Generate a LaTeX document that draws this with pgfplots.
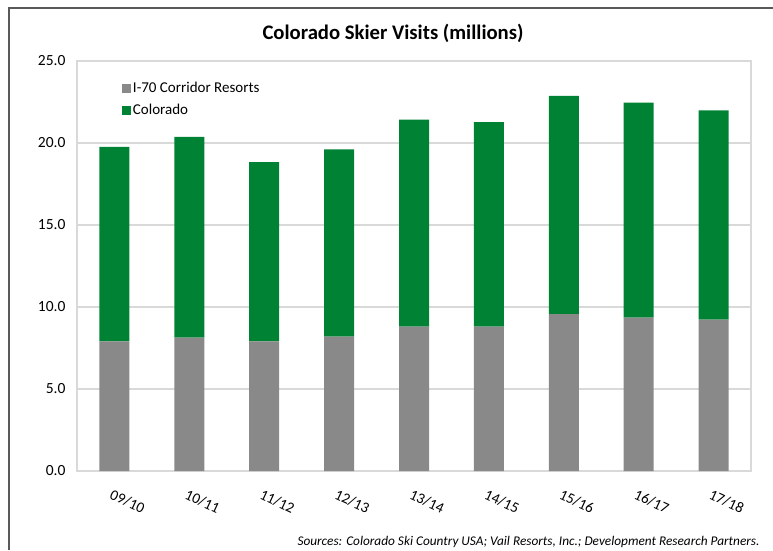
\documentclass[border=0pt]{standalone}
\usepackage{pgfplots}
\pgfplotsset{compat=1.18}
\usepackage{fontspec}
\setmainfont{Carlito}
\definecolor{cogreen}{RGB}{0,130,52}
\definecolor{cogray}{RGB}{137,137,137}
\definecolor{gridgray}{RGB}{217,217,217}
\definecolor{bordergray}{RGB}{89,89,89}
\begin{document}
\begin{tikzpicture}
\path[use as bounding box] (0pt,0pt) rectangle (773pt,550pt);
\draw[bordergray, line width=1.6pt] (9pt,0pt) -- (9pt,542pt) -- (773pt,542pt);
\node[font=\fontsize{20.7}{24}\selectfont\bfseries] at (393pt,517pt) {Colorado Skier Visits (millions)};
\begin{axis}[
  at={(77pt,79pt)}, anchor=south west,
  scale only axis, width=674pt, height=410pt,
  ybar stacked, bar width=30pt,
  xmin=-0.5, xmax=8.5, ymin=0, ymax=25,
  ytick={0,5,10,15,20,25},
  xtick={0,...,8},
  xticklabels={09/10,10/11,11/12,12/13,13/14,14/15,15/16,16/17,17/18},
  x tick label style={rotate=-25, anchor=north west, font=\fontsize{15}{17}\selectfont, xshift=3pt, yshift=-13pt},
  y tick label style={font=\fontsize{15.5}{17}\selectfont, xshift=-8pt},
  yticklabel={\pgfmathprintnumber[fixed,fixed zerofill,precision=1,assume math mode=true]{\tick}},
  major tick length=0pt,
  ymajorgrids, grid style={gridgray, line width=1.3pt},
  axis line style={gridgray, line width=1.3pt},
  legend style={at={(0.062,0.958)}, anchor=north west, draw=none, fill=none,
    font=\fontsize{15}{17}\selectfont, row sep=6pt, legend cell align=left},
  legend image code/.code={\fill[#1] (0pt,-4.5pt) rectangle (9pt,4.5pt);},
]
\addplot[fill=cogray, draw=none] coordinates {(0,7.90) (1,8.13) (2,7.90) (3,8.19) (4,8.80) (5,8.80) (6,9.57) (7,9.35) (8,9.23)};
\addplot[fill=cogreen, draw=none] coordinates {(0,11.86) (1,12.25) (2,10.94) (3,11.42) (4,12.62) (5,12.48) (6,13.31) (7,13.11) (8,12.76)};
\legend{I-70 Corridor Resorts, Colorado}
\end{axis}
\node[anchor=base east, font=\fontsize{13.3}{15}\selectfont\itshape] at (763pt,5pt) {Sources: Colorado Ski Country USA; Vail Resorts, Inc.; Development Research Partners.};
\end{tikzpicture}
\end{document}
